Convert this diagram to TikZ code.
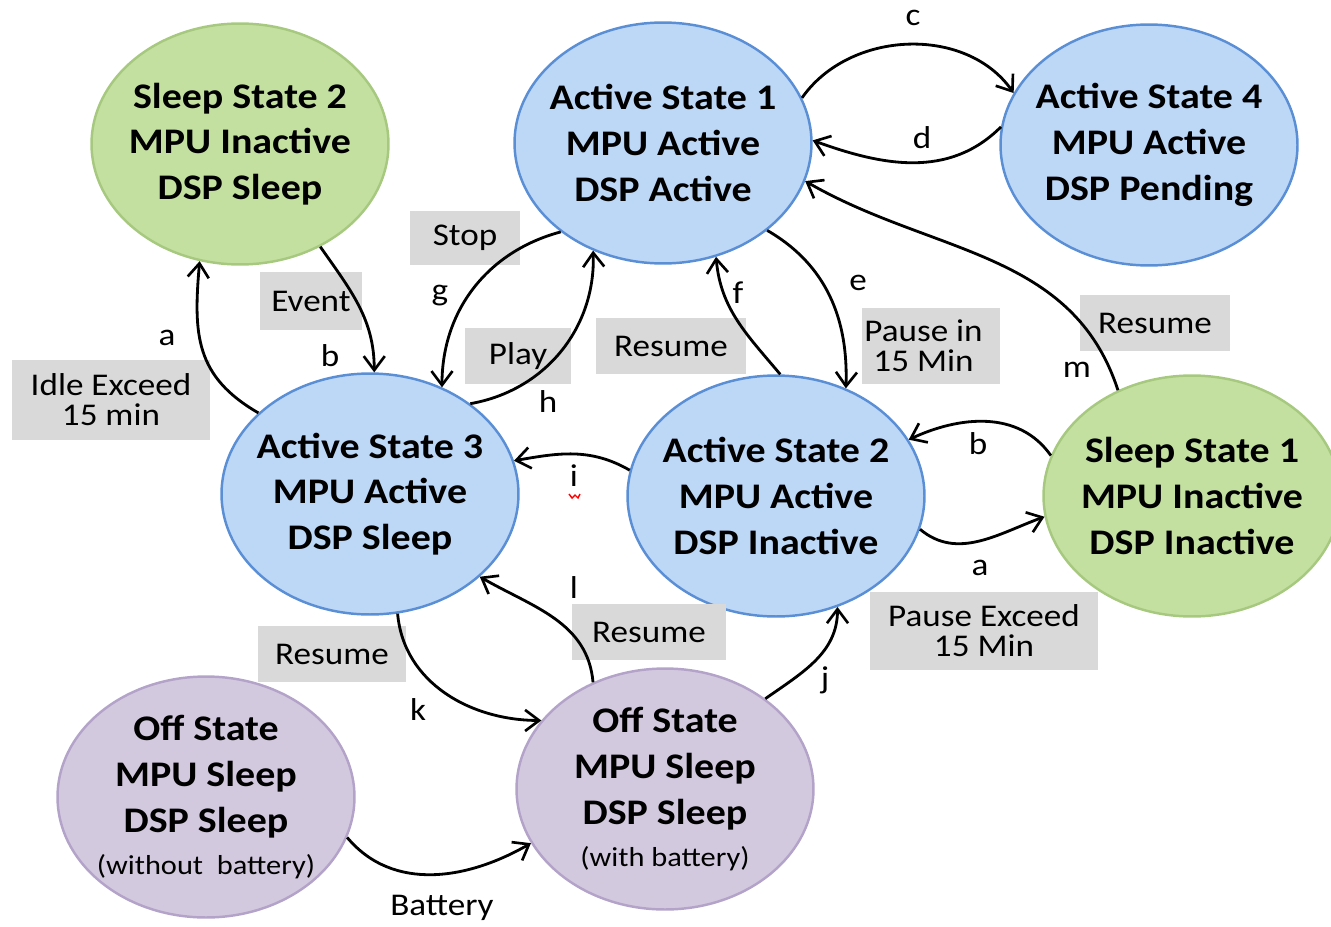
\documentclass[tikz,border=0pt]{standalone}
\usepackage{fontspec}
\setmainfont{Carlito}[FakeStretch=1.11]
\usetikzlibrary{shapes.geometric,arrows.meta}

\definecolor{bluefill}{HTML}{BDD7F7}
\definecolor{blueline}{HTML}{5B8FD5}
\definecolor{greenfill}{HTML}{C3E0A0}
\definecolor{greenline}{HTML}{A6C97F}
\definecolor{purplefill}{HTML}{D3C9DF}
\definecolor{purpleline}{HTML}{B3A3C9}
\definecolor{labelgray}{HTML}{D9D9D9}

\tikzset{
  state/.style={ellipse, draw, line width=1.4pt,
    inner xsep=-0.25cm, inner ysep=-0.15cm,
    minimum width=5.94cm, minimum height=4.82cm, align=center,
    font=\bfseries\fontsize{20.5}{26}\selectfont},
  activestate/.style={state, fill=bluefill, draw=blueline},
  sleepstate/.style={state, fill=greenfill, draw=greenline},
  offstate/.style={state, fill=purplefill, draw=purpleline},
  tag/.style={fill=labelgray, inner sep=0pt, align=center,
    font=\fontsize{18}{17.2}\selectfont},
  letter/.style={inner sep=0pt, font=\fontsize{18}{20}\selectfont},
  trans/.style={line width=1.6pt, -{Straight Barb[length=8pt,width=12pt,line width=1.5pt]}},
}

\newcommand{\smallnote}[1]{{\mdseries\fontsize{15.6}{18}\selectfont #1}}

\begin{document}
\begin{tikzpicture}[x=0.02cm, y=-0.02cm]
\useasboundingbox (0,0) rectangle (1331,926);

% state bubbles
\node[sleepstate]  (s2) at (240,144) {Sleep State 2\\MPU Inactive\\DSP Sleep};
\node[activestate] (a1) at (663,143) {Active State 1\\MPU Active\\DSP Active};
\node[activestate] (a4) at (1149,145) {Active State 4\\MPU Active\\DSP Pending};
\node[activestate] (a3) at (370,494) {Active State 3\\MPU Active\\DSP Sleep};
\node[activestate] (a2) at (776,496) {Active State 2\\MPU Active\\DSP Inactive};
\node[sleepstate]  (s1) at (1192,496) {Sleep State 1\\MPU Inactive\\DSP Inactive};
\node[offstate]    (o0) at (206,797) {Off State\\MPU Sleep\\DSP Sleep\\[-2pt]\smallnote{(without\ \ battery)}};
\node[offstate]    (o1) at (665,789) {Off State\\MPU Sleep\\DSP Sleep\\[-2pt]\smallnote{(with battery)}};

% event boxes
\node[tag, minimum width=2.2cm,  minimum height=1.1cm]  (tStop)  at (465,238) {Stop};
\node[tag, minimum width=2.04cm, minimum height=1.16cm] (tEvent) at (311,301) {Event};
\node[tag, minimum width=3.96cm, minimum height=1.6cm]  (tIdle)  at (111,400) {Idle Exceed\\15 min};
\node[tag, minimum width=2.14cm, minimum height=1.14cm] (tPlay)  at (518,356) {Play};
\node[tag, minimum width=3.0cm,  minimum height=1.14cm] (tResF)  at (671,346) {Resume};
\node[tag, minimum width=2.76cm, minimum height=1.54cm] (tPause) at (931,346) {\hspace*{-0.3cm}Pause in\\\hspace*{-0.3cm}15 Min};
\node[tag, minimum width=3.0cm,  minimum height=1.14cm] (tResM)  at (1155,323) {Resume};
\node[tag, minimum width=4.56cm, minimum height=1.56cm] (tPExc)  at (984,631) {Pause Exceed\\15 Min};
\node[tag, minimum width=3.08cm, minimum height=1.12cm] (tResL)  at (649,632) {Resume};
\node[tag, minimum width=2.96cm, minimum height=1.12cm] (tResK)  at (332,654) {Resume};

% transitions
\draw[trans] (a3.144.8) to[out=150, in=-95, looseness=1.15] (s2.251.6);
\draw[trans] (s2.-52)   to[out=-55, in=90]  (a3.88);
\draw[trans] (a1.221)   to[out=195, in=90]  (a3.56);
\draw[trans] (a3.42)    to[out=10,  in=-88] (a1.237);
\draw[trans] (a1.18.6)  to[out=55,  in=125] (a4.159.4);
\draw[trans] (a4.173)   to[out=-135,in=-20] (a1.1);
\draw[trans] (a2.88)    to[out=130, in=-85] (a1.-65);
\draw[trans] (a1.-40)   to[out=-30, in=88]  (a2.57.4);
\draw[trans] (s1.125)   to[out=108, in=-30] (a1.-15.4);
\draw[trans] (s1.164.6) to[out=125, in=25]  (a2.23.1);
\draw[trans] (a2.-13.3) to[out=-40, in=200] (s1.188.8);
\draw[trans] (a2.170.5) to[out=150, in=10]  (a3.13.2);
\draw[trans] (o1.124)   to[out=95,  in=-30] (a3.-37.5);
\draw[trans] (a3.-77.7) to[out=-85, in=180] (o1.151.8);
\draw[trans] (o1.42.6)  to[out=35,  in=-90] (a2.-61.6);
\draw[trans] (o0.-16.3) to[out=-50, in=210] (o1.202.5);

% transition letters
\node[letter] (lc)  at (913,18)  {c};
\node[letter] (ld)  at (922,138) {d};
\node[letter] (la1) at (167,338) {a};
\node[letter] (lb1) at (330,356) {b};
\node[letter] (lg)  at (440,296) {g};
\node[letter] (lh)  at (548,402) {h};
\node[letter] (lf)  at (738,293) {f};
\node[letter] (le)  at (858,283) {e};
\node[letter] (lm)  at (1077,370) {m};
\node[letter] (lb2) at (978,444) {b};
\node[letter] (la2) at (980,568) {a};
\node[letter] (li)  at (574,476) {i};
\node[letter] (ll)  at (574,588) {l};
\node[letter] (lk)  at (418,710) {k};
\node[letter] (lj)  at (825,680) {j};
\node[letter] (lbat) at (442,908) {Battery};

% spell-check squiggle under the i
\draw[red, line width=0.8pt] (569,494) -- (572,498) -- (575,495) -- (578,498) -- (580,494);
\end{tikzpicture}
\end{document}
